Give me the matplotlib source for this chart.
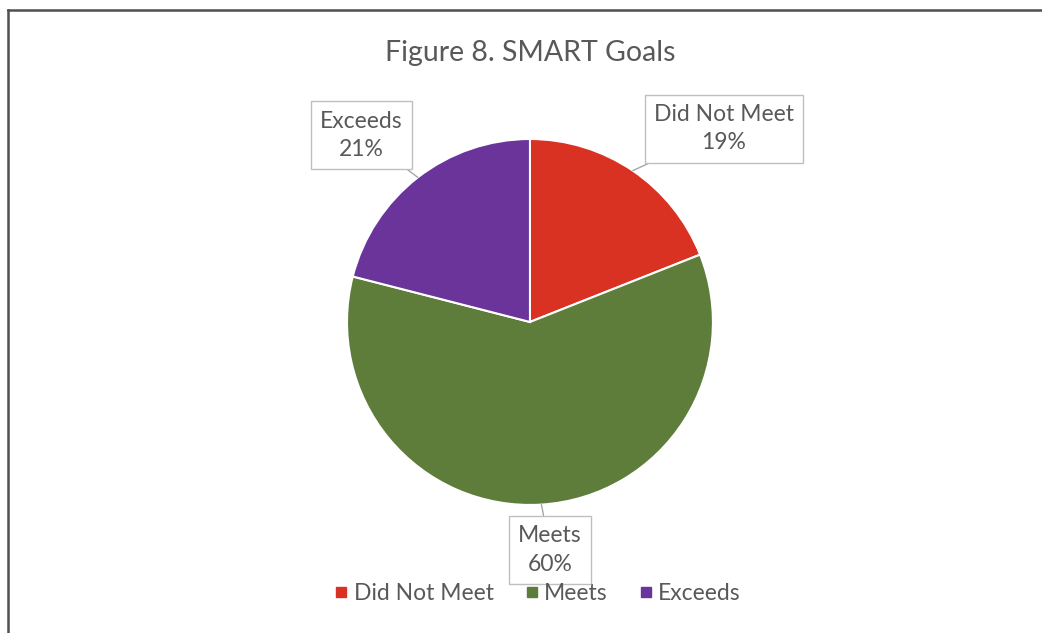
import matplotlib.pyplot as plt
import numpy as np
from matplotlib.lines import Line2D

plt.rcParams["font.family"] = ["Lato", "DejaVu Sans"]

# Data
categories = ["Did Not Meet", "Meets", "Exceeds"]
shares = [19, 60, 21]
colors = ["#DA3222", "#5E7D3A", "#6A349B"]

# label box offsets (data units, pie radius = 1)
label_pos = [(1.06, 1.057), (0.11, -1.246), (-0.92, 1.02)]

text_gray = "#595959"

fig = plt.figure(figsize=(10.42, 6.33), dpi=100)
fig.patch.set_facecolor("white")

# border on top and left only
fig.add_artist(Line2D([7.5 / 1042, 7.5 / 1042], [0, 1 - 9.5 / 633], color="#505050", lw=1.8))
fig.add_artist(Line2D([7.5 / 1042, 1], [1 - 9.5 / 633, 1 - 9.5 / 633], color="#505050", lw=1.8))

ax = fig.add_axes([0.2891, 0.130, 0.439, 0.7227])
wedges, _ = ax.pie(shares, colors=colors, startangle=90, counterclock=False,
                   radius=1, wedgeprops=dict(edgecolor="white", linewidth=1.5))
ax.set_xlim(-1.25, 1.25)
ax.set_ylim(-1.25, 1.25)
ax.set_aspect("equal")
ax.axis("off")

for w, name, val, pos in zip(wedges, categories, shares, label_pos):
    mid = np.deg2rad((w.theta1 + w.theta2) / 2)
    edge = (np.cos(mid), np.sin(mid))
    ax.annotate(f"{name}\n{val}%", xy=edge, xytext=pos, ha="center", va="center",
                fontsize=16.5, color=text_gray, linespacing=1.45, annotation_clip=False,
                bbox=dict(boxstyle="square,pad=0.4", fc="white", ec="#BFBFBF", lw=1),
                arrowprops=dict(arrowstyle="-", color="#A6A6A6", lw=1, shrinkA=0, shrinkB=0),
                zorder=5)

fig.text(530 / 1042, 1 - 53 / 633, "Figure 8. SMART Goals", ha="center", va="center",
         fontsize=20.5, color=text_gray)

handles = [Line2D([], [], marker="s", ls="", color=c, markersize=7) for c in colors]
leg = fig.legend(handles, categories, loc="center", bbox_to_anchor=(537 / 1042, 1 - 594 / 633),
                 ncol=3, frameon=False, fontsize=16.5, handletextpad=0.2, columnspacing=1.3,
                 handlelength=0.7)
for t in leg.get_texts():
    t.set_color(text_gray)
leg.set_zorder(10)

plt.savefig("out.png", dpi=100)
